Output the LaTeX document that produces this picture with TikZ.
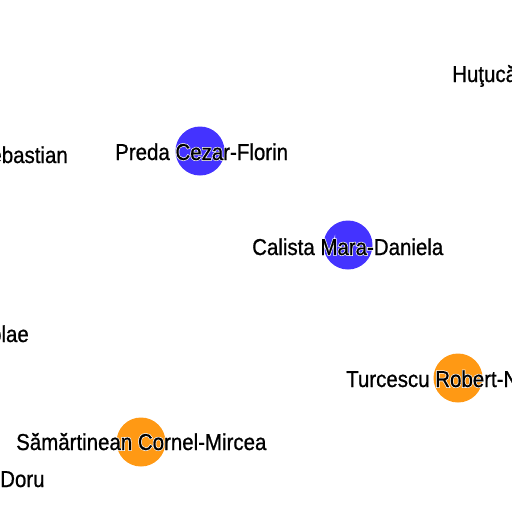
\documentclass[tikz,border=0pt]{standalone}
\usepackage{fontspec}
\setmainfont{Liberation Sans}[FakeStretch=0.89,FakeBold=0.8]
\newfontfamily\halofont{Liberation Sans}[FakeStretch=0.89,FakeBold=7]
\newcommand\halotext[1]{\leavevmode\rlap{\halofont\color{white}#1}#1}
\definecolor{nblue}{RGB}{68,51,255}
\definecolor{norange}{RGB}{255,153,20}
\begin{document}
\begin{tikzpicture}[x=1pt,y=-1pt,
  dot/.style={circle, minimum size=49pt, inner sep=0pt, draw=none},
  lbl/.style={anchor=base west, inner sep=0pt, font=\fontsize{23}{27}\selectfont},
  lble/.style={anchor=base east, inner sep=0pt, font=\fontsize{23}{27}\selectfont}]
\useasboundingbox (0,0) rectangle (512,512);
\clip (0,0) rectangle (512,512);
\node[dot, fill=nblue] (preda) at (200,151) {};
\node[dot, fill=nblue] (calista) at (348,245) {};
\node[dot, fill=norange] (turcescu) at (458,378) {};
\node[dot, fill=norange] (samar) at (141,442) {};
\node[lbl] (lhutuca) at (452,82) {\halotext{Huţucă}};
\node[lble] (lsebastian) at (68,163) {\halotext{ebastian}};
\node[lbl] (lpreda) at (115,160) {\halotext{Preda Cezar-Florin}};
\node[lbl] (lcalista) at (252,255) {\halotext{Calista Mara-Daniela}};
\node[lble] (lolae) at (29,342) {\halotext{olae}};
\node[lbl] (lturcescu) at (346,387) {\halotext{Turcescu Robert-N}};
\node[lbl] (lsamar) at (16,450) {\halotext{Sămărtinean Cornel-Mircea}};
\node[lbl] (ldoru) at (0,487) {\halotext{Doru}};
\end{tikzpicture}
\end{document}
